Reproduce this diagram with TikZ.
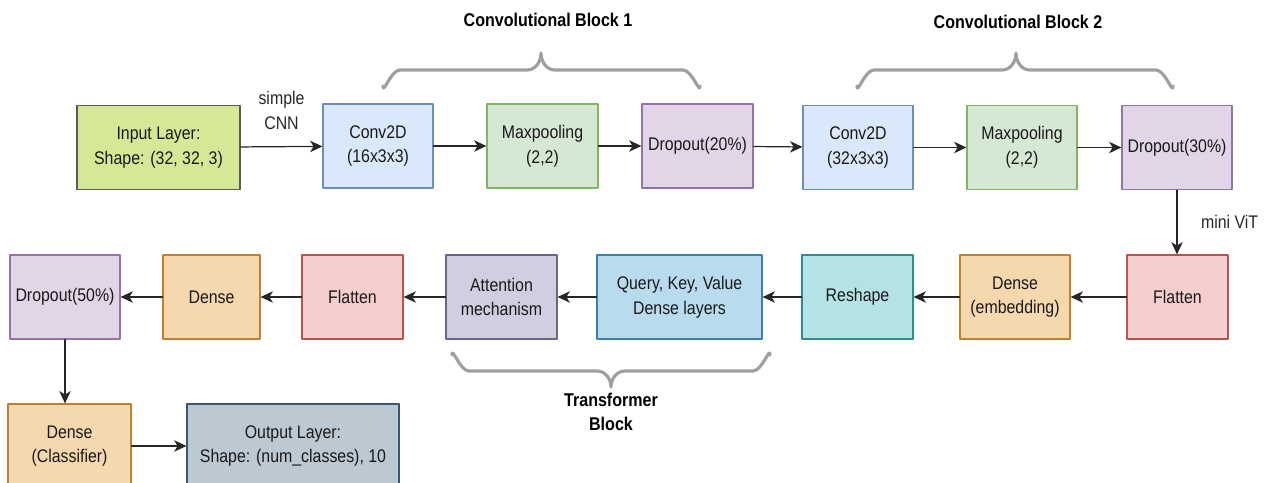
\documentclass[tikz,border=0pt]{standalone}
\usepackage{fontspec}
\setmainfont{Liberation Sans}[FakeStretch=0.87]
\usetikzlibrary{arrows.meta}

\definecolor{inputfill}{HTML}{D5E896}
\definecolor{inputline}{HTML}{5A5A5A}
\definecolor{convfill}{HTML}{DAE8FC}
\definecolor{convline}{HTML}{6C8EBF}
\definecolor{poolfill}{HTML}{D5E8D4}
\definecolor{poolline}{HTML}{82B366}
\definecolor{dropfill}{HTML}{E1D5E7}
\definecolor{dropline}{HTML}{9673A6}
\definecolor{flatfill}{HTML}{F4CFCD}
\definecolor{flatline}{HTML}{B85450}
\definecolor{densefill}{HTML}{F6D8AE}
\definecolor{denseline}{HTML}{C0812F}
\definecolor{reshapefill}{HTML}{B4E2E5}
\definecolor{reshapeline}{HTML}{2E8C92}
\definecolor{qkvfill}{HTML}{B8DCEE}
\definecolor{qkvline}{HTML}{3B82A8}
\definecolor{attnfill}{HTML}{D2CEE2}
\definecolor{attnline}{HTML}{6A6590}
\definecolor{outfill}{HTML}{BCC8D2}
\definecolor{outline}{HTML}{3A5670}

\begin{document}
\begin{tikzpicture}[x=0.02cm, y=-0.02cm, line join = round, line cap = round,
    font=\fontsize{10.4}{14}\selectfont,
    layer/.style={draw, rectangle, line width=0.7pt, align=center, text=black!90,
      inner sep=1pt, minimum height=1.68cm},
    arr/.style={-{Stealth[length=7pt,width=6.5pt,inset=2pt]}, line width=0.7pt, black!85},
    curly/.style={draw=gray!75, line width=1.8pt},
    title/.style={font=\fontsize{10.5}{14}\selectfont\bfseries, align=center}]
  \useasboundingbox (0,0) rectangle (1265,483);

  % top row: simple CNN
  \node[layer, fill=inputfill, draw=inputline, minimum width=3.26cm] (input) at (158.5,147.5) {Input Layer:\\Shape: (32, 32, 3)};
  \node[layer, fill=convfill, draw=convline, minimum width=2.2cm] (conva) at (378,146) {Conv2D\\(16x3x3)};
  \node[layer, fill=poolfill, draw=poolline, minimum width=2.22cm] (poola) at (542.5,146) {Maxpooling\\(2,2)};
  \node[layer, fill=dropfill, draw=dropline, minimum width=2.22cm] (dropa) at (697.5,146) {Dropout(20\%)};
  \node[layer, fill=convfill, draw=convline, minimum width=2.2cm] (convb) at (858,147.5) {Conv2D\\(32x3x3)};
  \node[layer, fill=poolfill, draw=poolline, minimum width=2.2cm] (poolb) at (1022,147.5) {Maxpooling\\(2,2)};
  \node[layer, fill=dropfill, draw=dropline, minimum width=2.2cm] (dropb) at (1177,147.5) {Dropout(30\%)};

  % middle row: mini ViT
  \node[layer, fill=flatfill, draw=flatline, minimum width=2.02cm] (flata) at (1177.5,297) {Flatten};
  \node[layer, fill=densefill, draw=denseline, minimum width=2.2cm] (embed) at (1015,297) {Dense\\(embedding)};
  \node[layer, fill=reshapefill, draw=reshapeline, minimum width=2.22cm] (reshape) at (857.5,297) {Reshape};
  \node[layer, fill=qkvfill, draw=qkvline, minimum width=3.3cm] (qkv) at (679.5,297) {Query, Key, Value\\Dense layers};
  \node[layer, fill=attnfill, draw=attnline, minimum width=2.22cm] (attn) at (501.5,297) {Attention\\mechanism};
  \node[layer, fill=flatfill, draw=flatline, minimum width=2.02cm] (flatb) at (352.5,297) {Flatten};
  \node[layer, fill=densefill, draw=denseline, minimum width=1.94cm] (dense) at (211.5,297) {Dense};
  \node[layer, fill=dropfill, draw=dropline, minimum width=2.2cm] (dropc) at (65,297) {Dropout(50\%)};

  % bottom row
  \node[layer, fill=densefill, draw=denseline, minimum width=2.46cm] (classifier) at (69.5,446) {Dense\\(Classifier)};
  \node[layer, fill=outfill, draw=outline, minimum width=4.24cm] (output) at (293,446) {Output Layer:\\Shape: (num\_classes), 10};

  % connectors
  \draw[arr] (input) -- (conva) node[midway, above=6pt, align=center] {simple\\CNN};
  \draw[arr] (conva) -- (poola);
  \draw[arr] (poola) -- (dropa);
  \draw[arr] (dropa) -- (convb);
  \draw[arr] (convb) -- (poolb);
  \draw[arr] (poolb) -- (dropb);
  \draw[arr] (dropb.south) -- (dropb.south |- flata.north) node[midway, right=10pt] {mini ViT};
  \draw[arr] (flata) -- (embed);
  \draw[arr] (embed) -- (reshape);
  \draw[arr] (reshape) -- (qkv);
  \draw[arr] (qkv) -- (attn);
  \draw[arr] (attn) -- (flatb);
  \draw[arr] (flatb) -- (dense);
  \draw[arr] (dense) -- (dropc);
  \draw[arr] (dropc.south) -- (dropc.south |- classifier.north);
  \draw[arr] (classifier) -- (output);

  % braces
  \draw[curly] (383,86) to[out=-90,in=180] (400,70) -- (527,70) to[out=0,in=-90] (541,53)
    to[out=-90,in=180] (555,70) -- (683,70) to[out=0,in=-90] (700,86);
  \draw[curly] (857,86) to[out=-90,in=180] (874,70) -- (1002,70) to[out=0,in=-90] (1016,53)
    to[out=-90,in=180] (1030,70) -- (1156,70) to[out=0,in=-90] (1173,86);
  \draw[curly] (452,355) to[out=90,in=180] (469,371) -- (597,371) to[out=0,in=90] (611,387)
    to[out=90,in=180] (625,371) -- (753,371) to[out=0,in=90] (770,355);

  \node[title] (titlea) at (548,20) {Convolutional Block 1};
  \node[title] (titleb) at (1018,22) {Convolutional Block 2};
  \node[title] (titlec) at (611,412) {Transformer\\Block};
\end{tikzpicture}
\end{document}
